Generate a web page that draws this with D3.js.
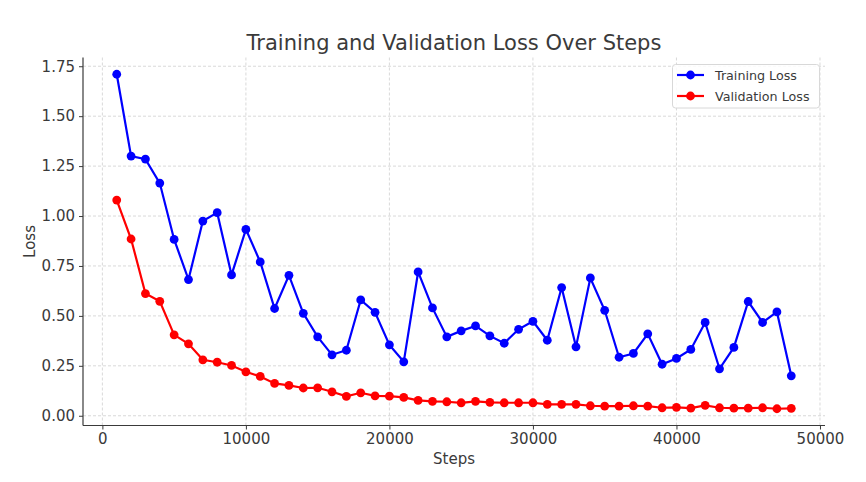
<!DOCTYPE html>
<html>
<head>
<meta charset="utf-8">
<script src="https://cdn.jsdelivr.net/npm/d3@7"></script>
<style>
  html, body { margin: 0; padding: 0; background: #fff; }
  svg { display: block; font-family: "DejaVu Sans", sans-serif; }
</style>
</head>
<body>
<svg id="chart" width="866" height="482"></svg>
<script>
const steps = d3.range(1, 49).map(i => i * 1000);
const trainingLoss = [1.71, 1.30, 1.285, 1.165, 0.883, 0.682, 0.975, 1.017, 0.705, 0.933,
  0.77, 0.537, 0.703, 0.513, 0.395, 0.305, 0.328, 0.58, 0.518, 0.355,
  0.27, 0.72, 0.54, 0.395, 0.425, 0.45, 0.40, 0.363, 0.433, 0.473,
  0.378, 0.642, 0.345, 0.69, 0.528, 0.293, 0.312, 0.41, 0.258, 0.287,
  0.332, 0.467, 0.235, 0.342, 0.572, 0.467, 0.52, 0.20];
const validationLoss = [1.08, 0.885, 0.612, 0.573, 0.405, 0.36, 0.28, 0.268, 0.252, 0.22,
  0.197, 0.162, 0.152, 0.139, 0.14, 0.12, 0.097, 0.115, 0.10, 0.098,
  0.092, 0.077, 0.072, 0.07, 0.065, 0.072, 0.067, 0.065, 0.065, 0.065,
  0.057, 0.057, 0.057, 0.050, 0.048, 0.048, 0.050, 0.048, 0.040, 0.042,
  0.038, 0.052, 0.040, 0.038, 0.038, 0.040, 0.035, 0.037];
const xTicks = [0, 10000, 20000, 30000, 40000, 50000];
const yTicks = [0, 0.25, 0.5, 0.75, 1.0, 1.25, 1.5, 1.75];
const seriesNames = ["Training Loss", "Validation Loss"];
const seriesColors = ["#0000ff", "#ff0000"];

const svg = d3.select("#chart");
const L = 83, R = 825, T = 57.5, B = 425.5;
const x = d3.scaleLinear().domain([-1350, 50350]).range([L, R]);
const y = d3.scaleLinear().domain([-0.0488, 1.7938]).range([B, T]);
const textColor = "#3a3a3a";

// grid
const grid = svg.append("g");
grid.selectAll(".vg").data(xTicks).join("line")
  .attr("x1", d => x(d)).attr("x2", d => x(d)).attr("y1", T).attr("y2", B)
  .attr("stroke", "#cfcfcf").attr("stroke-width", 0.8).attr("stroke-dasharray", "3,2");
grid.selectAll(".hg").data(yTicks).join("line")
  .attr("x1", L).attr("x2", R).attr("y1", d => y(d)).attr("y2", d => y(d))
  .attr("stroke", "#cfcfcf").attr("stroke-width", 0.8).attr("stroke-dasharray", "3,2");

// axes
const xAxis = svg.append("g").attr("transform", `translate(0,${B})`)
  .call(d3.axisBottom(x).tickValues(xTicks).tickFormat(d3.format("d")).tickSize(4).tickPadding(4));
const yAxis = svg.append("g").attr("transform", `translate(${L},0)`)
  .call(d3.axisLeft(y).tickValues(yTicks).tickFormat(d3.format(".2f")).tickSize(4).tickPadding(4));
[xAxis, yAxis].forEach(a => {
  a.select(".domain").attr("stroke", textColor).attr("stroke-width", 1.2);
  a.selectAll(".tick line").attr("stroke", textColor).attr("stroke-width", 1);
  a.selectAll(".tick text").attr("fill", textColor).style("font-size", "15px")
    .style("font-family", "'DejaVu Sans', sans-serif");
});
xAxis.select(".domain").attr("d", `M${L},0H${R}`);
yAxis.select(".domain").attr("d", `M0,${T}V${B}`);

// lines
const allSeries = [trainingLoss, validationLoss];
const line = d3.line().x((d, i) => x(steps[i])).y(d => y(d));
allSeries.forEach((vals, si) => {
  const g = svg.append("g");
  g.append("path").datum(vals).attr("d", line).attr("fill", "none")
    .attr("stroke", seriesColors[si]).attr("stroke-width", 2.2);
  g.selectAll("circle").data(vals).join("circle")
    .attr("cx", (d, i) => x(steps[i])).attr("cy", d => y(d)).attr("r", 4.4)
    .attr("fill", seriesColors[si]);
});

// title and labels
svg.append("text").attr("x", (L + R) / 2).attr("y", 50).attr("text-anchor", "middle")
  .attr("fill", textColor).style("font-size", "21px").text("Training and Validation Loss Over Steps");
svg.append("text").attr("x", (L + R) / 2).attr("y", 464).attr("text-anchor", "middle")
  .attr("fill", textColor).style("font-size", "15px").text("Steps");
svg.append("text").attr("transform", `translate(35,${(T + B) / 2}) rotate(-90)`).attr("text-anchor", "middle")
  .attr("fill", textColor).style("font-size", "15px").text("Loss");

// legend
const lg = svg.append("g");
lg.append("rect").attr("x", 672.5).attr("y", 64.5).attr("width", 147).attr("height", 43.5)
  .attr("rx", 3).attr("fill", "#fff").attr("fill-opacity", 0.85).attr("stroke", "#d8d8d8");
seriesNames.forEach((name, i) => {
  const yy = 75 + i * 21;
  lg.append("line").attr("x1", 677).attr("x2", 704).attr("y1", yy).attr("y2", yy)
    .attr("stroke", seriesColors[i]).attr("stroke-width", 2.2);
  lg.append("circle").attr("cx", 690.5).attr("cy", yy).attr("r", 4.4).attr("fill", seriesColors[i]);
  lg.append("text").attr("x", 715).attr("y", yy + 4.5).attr("fill", textColor)
    .style("font-size", "12.7px").text(name);
});
</script>
</body>
</html>
